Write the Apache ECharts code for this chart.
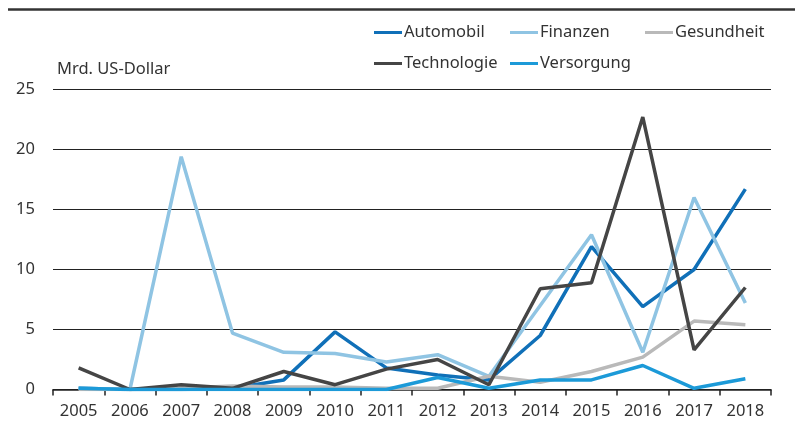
<!DOCTYPE html>
<html><head><meta charset="utf-8">
<script src="https://cdn.jsdelivr.net/npm/echarts@6/dist/echarts.min.js"></script>
<style>html,body{margin:0;padding:0;background:#fff}#c{width:797px;height:423px}</style>
</head><body><div id="c"></div>
<script>
const years = ['2005','2006','2007','2008','2009','2010','2011','2012','2013','2014','2015','2016','2017','2018'];
const automobil   = [0.1, 0.0, 0.0, 0.1, 0.8, 4.8, 1.8, 1.2, 0.8, 4.5, 11.9, 6.9, 10.0, 16.7];
const finanzen    = [0.1, 0.0, 19.4, 4.7, 3.1, 3.0, 2.3, 2.9, 1.1, 7.0, 12.9, 3.1, 16.0, 7.2];
const gesundheit  = [0.0, 0.0, 0.1, 0.3, 0.2, 0.2, 0.1, 0.1, 1.1, 0.6, 1.5, 2.7, 5.7, 5.4];
const technologie = [1.8, 0.0, 0.4, 0.1, 1.5, 0.4, 1.7, 2.5, 0.4, 8.4, 8.9, 22.7, 3.3, 8.5];
const versorgung  = [0.1, 0.0, 0.0, 0.0, 0.0, 0.0, 0.0, 1.0, 0.1, 0.8, 0.8, 2.0, 0.1, 0.9];
const yTicks = [0, 5, 10, 15, 20, 25];

const names = ['Automobil','Finanzen','Gesundheit','Technologie','Versorgung'];
const colors = ['#1070b8','#8fc4e3','#b9b9b9','#454545','#1c9ad8'];
const values = [automobil, finanzen, gesundheit, technologie, versorgung];
const legendPos = [[374,24],[510,24],[645,24],[374,55],[510,55]];
const font = 'Noto Sans';
const fs = 16.5;

const chart = echarts.init(document.getElementById('c'));
chart.setOption({
  animation:false,
  textStyle:{fontFamily:font},
  graphic:[
    {type:'line', shape:{x1:8,y1:9.5,x2:795,y2:9.5}, style:{stroke:'#333',lineWidth:2.5}},
    {type:'text', left:57, top:61, style:{text:'Mrd. US-Dollar', fill:'#333', font:fs+'px "Noto Sans"'}}
  ],
  legend: names.map((n,i)=>({
    data:[n], left:legendPos[i][0], top:legendPos[i][1], padding:0,
    icon:'rect', itemWidth:28, itemHeight:3,
    textStyle:{fontFamily:font, fontSize:fs, color:'#333', padding:[0,0,0,-3]}
  })),
  grid:{left:53, right:26, top:89.5, bottom:33.5},
  xAxis:{
    type:'category', data:years, boundaryGap:true,
    axisLine:{lineStyle:{color:'#222', width:1.5}},
    axisTick:{show:true, length:6, lineStyle:{color:'#222', width:1.5}},
    axisLabel:{color:'#333', fontSize:fs, margin:13, fontFamily:font}
  },
  yAxis:{
    type:'value', min:yTicks[0], max:yTicks[yTicks.length-1], interval:5,
    axisLine:{show:false}, axisTick:{show:false},
    splitLine:{lineStyle:{color:'#222', width:1}},
    axisLabel:{color:'#333', fontSize:fs, margin:18, fontFamily:font}
  },
  series: names.map((n,i)=>({
    name:n, type:'line', data:values[i], symbol:'none',
    lineStyle:{color:colors[i], width:3.5}, itemStyle:{color:colors[i]}, z:2+i
  }))
});
</script></body></html>
